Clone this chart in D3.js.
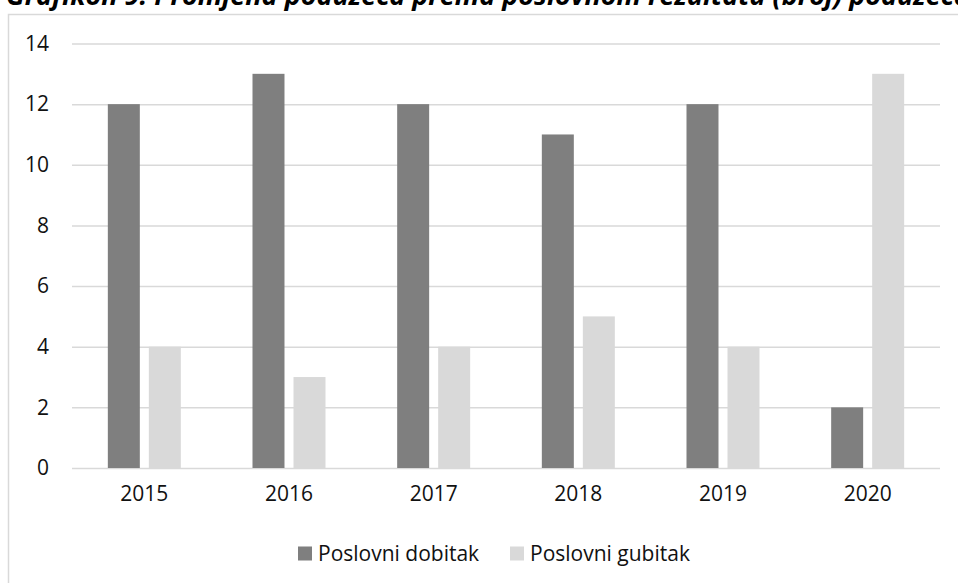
<!DOCTYPE html>
<html>
<head>
<meta charset="utf-8">
<script src="https://cdn.jsdelivr.net/npm/d3@7"></script>
<style>
  body { margin: 0; background: #fff; overflow: hidden; }
  text { font-family: "Open Sans", sans-serif; }
</style>
</head>
<body>
<div id="chart"></div>
<script>
//////////////////////////// data /////////////////////////////////////////
const years = ["2015", "2016", "2017", "2018", "2019", "2020"];
const seriesNames = ["Poslovni dobitak", "Poslovni gubitak"];
const dobitak = [12, 13, 12, 11, 12, 2];
const gubitak = [4, 3, 4, 5, 4, 13];
const yTicks = [0, 2, 4, 6, 8, 10, 12, 14];
const titleText = "Grafikon 9: Promjena poduzeća prema poslovnom rezultatu (broj) poduzeća";

const colors = ["#7f7f7f", "#d9d9d9"];

const data = years.map((y, i) => ({ year: y, values: [dobitak[i], gubitak[i]] }));

//////////////////////////// sizes ///////////////////////////////////////
const width = 958;
const height = 583;
const plot = { left: 72, right: 940, top: 43.5, bottom: 468 };

const svg = d3.select("#chart").append("svg")
  .attr("width", width)
  .attr("height", height);

// title, clipped at the top like the reference
svg.append("text")
  .attr("x", 6)
  .attr("y", 5)
  .attr("font-size", 27)
  .attr("font-weight", "bold")
  .attr("font-style", "italic")
  .attr("fill", "#000")
  .text(titleText);

// chart frame
svg.append("rect")
  .attr("x", 8.5)
  .attr("y", 14.5)
  .attr("width", 1000)
  .attr("height", 700)
  .attr("fill", "#fff")
  .attr("stroke", "#d9d9d9")
  .attr("stroke-width", 1.5);

//////////////////////////// scales ///////////////////////////////////////
const xScale = d3.scaleBand()
  .domain(years)
  .range([plot.left, plot.right]);

const yScale = d3.scaleLinear()
  .domain([0, 14])
  .range([plot.bottom, plot.top]);

const barGroup = 73;
const xSub = d3.scaleBand()
  .domain(d3.range(seriesNames.length))
  .range([-barGroup / 2, barGroup / 2])
  .paddingInner(0.22);

//////////////////////////// grid + axes //////////////////////////////////
const yAxis = svg.append("g")
  .call(d3.axisLeft(yScale)
    .tickValues(yTicks)
    .tickSize(-(plot.right - plot.left))
    .tickPadding(23)
    .tickFormat(d3.format("d")))
  .attr("transform", `translate(${plot.left},0)`);

yAxis.select(".domain").remove();
yAxis.selectAll(".tick line")
  .attr("stroke", "#d9d9d9")
  .attr("stroke-width", 1.5);
yAxis.selectAll(".tick text")
  .attr("font-size", 21)
  .attr("fill", "#111")
  .attr("font-family", "Open Sans, sans-serif");

const xAxis = svg.append("g")
  .attr("transform", `translate(0,${plot.bottom})`)
  .call(d3.axisBottom(xScale).tickSize(0).tickPadding(18));

xAxis.select(".domain").remove();
xAxis.selectAll(".tick text")
  .attr("font-size", 21)
  .attr("fill", "#111")
  .attr("font-family", "Open Sans, sans-serif");

//////////////////////////// bars /////////////////////////////////////////
const groups = svg.append("g")
  .selectAll("g")
  .data(data)
  .join("g")
  .attr("transform", (d) => `translate(${xScale(d.year) + xScale.bandwidth() / 2},0)`);

groups.selectAll("rect")
  .data((d) => d.values.map((v, i) => ({ v, i })))
  .join("rect")
  .attr("x", (d) => xSub(d.i))
  .attr("width", xSub.bandwidth())
  .attr("y", (d) => yScale(d.v))
  .attr("height", (d) => yScale(0) - yScale(d.v))
  .attr("fill", (d) => colors[d.i]);

//////////////////////////// legend ///////////////////////////////////////
const legendX = [298, 510];
const legend = svg.append("g")
  .selectAll("g")
  .data(seriesNames)
  .join("g")
  .attr("transform", (d, i) => `translate(${legendX[i]},546.5)`);

legend.append("rect")
  .attr("width", 14)
  .attr("height", 14)
  .attr("fill", (d, i) => colors[i]);

legend.append("text")
  .attr("x", 20)
  .attr("y", 7)
  .attr("dy", "0.35em")
  .attr("font-size", 21)
  .attr("fill", "#111")
  .text((d) => d);
</script>
</body>
</html>
